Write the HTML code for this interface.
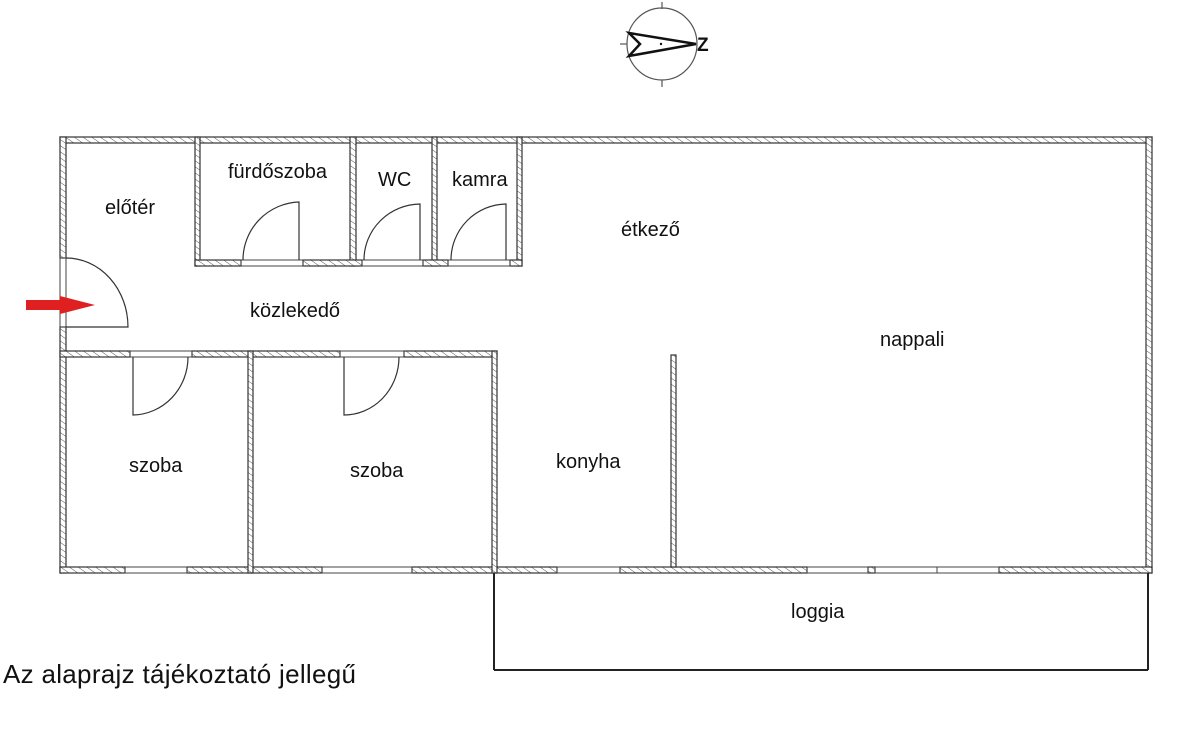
<!DOCTYPE html>
<html><head><meta charset="utf-8"><style>
html,body{margin:0;padding:0;background:#fff;}
svg{display:block;}
text{font-family:"Liberation Sans","DejaVu Sans",sans-serif;fill:#111;}
</style></head><body>
<svg width="1200" height="748" viewBox="0 0 1200 748" xmlns="http://www.w3.org/2000/svg">
<defs>
<pattern id="h" width="5" height="5" patternUnits="userSpaceOnUse" patternTransform="rotate(-55)">
<rect width="5" height="5" fill="#fff"/><line x1="0" y1="0" x2="0" y2="5" stroke="#555" stroke-width="1"/>
</pattern>
</defs>
<g stroke="#333" stroke-width="1.2" fill="url(#h)">
<rect x="60" y="137" width="1092" height="6"/>
<rect x="60" y="137" width="6" height="121"/>
<rect x="60" y="327" width="6" height="246"/>
<rect x="1146" y="137" width="6" height="436"/>
<rect x="60" y="567" width="65" height="6"/>
<rect x="187" y="567" width="135" height="6"/>
<rect x="412" y="567" width="145" height="6"/>
<rect x="620" y="567" width="187" height="6"/>
<rect x="868" y="567" width="7" height="6"/>
<rect x="999" y="567" width="153" height="6"/>
<rect x="195" y="137" width="5" height="129"/>
<rect x="350" y="137" width="6" height="129"/>
<rect x="432" y="137" width="5" height="129"/>
<rect x="517" y="137" width="5" height="129"/>
<rect x="195" y="260" width="46" height="6"/>
<rect x="303" y="260" width="59" height="6"/>
<rect x="423" y="260" width="25" height="6"/>
<rect x="510" y="260" width="12" height="6"/>
<rect x="60" y="351" width="70" height="6"/>
<rect x="192" y="351" width="148" height="6"/>
<rect x="404" y="351" width="93" height="6"/>
<rect x="248" y="351" width="5" height="222"/>
<rect x="492" y="351" width="5" height="222"/>
<rect x="671" y="355" width="5" height="212"/>
</g>
<g stroke="#444" stroke-width="1" fill="none">
<rect x="125" y="567" width="62" height="6"/>
<rect x="322" y="567" width="90" height="6"/>
<rect x="557" y="567" width="63" height="6"/>
<rect x="807" y="567" width="61" height="6"/>
<rect x="875" y="567" width="124" height="6"/>
<line x1="937" y1="567" x2="937" y2="573"/>
<rect x="241" y="260" width="62" height="6"/>
<rect x="362" y="260" width="61" height="6"/>
<rect x="448" y="260" width="62" height="6"/>
<rect x="130" y="351" width="62" height="6"/>
<rect x="340" y="351" width="64" height="6"/>
<rect x="60" y="258" width="6" height="69"/>
</g>
<g stroke="#333" stroke-width="1.2" fill="none">
<path d="M66 327 L128 327 A62 69 0 0 0 66 258"/>
<path d="M299 260 L299 202 A58 58 0 0 0 243 260"/>
<path d="M420 260 L420 204 A57 56 0 0 0 364 260"/>
<path d="M506 260 L506 204 A56 56 0 0 0 451 260"/>
<path d="M133 357 L133 415 A56 58 0 0 0 188 357"/>
<path d="M344 357 L344 415 A55 58 0 0 0 399 357"/>
</g>
<g stroke="#222" stroke-width="2" fill="none">
<line x1="494" y1="573" x2="494" y2="670"/>
<line x1="1148" y1="573" x2="1148" y2="670"/>
<line x1="494" y1="670" x2="1148" y2="670"/>
</g>
<path d="M26 300 L60 300 L60 296 L95 305 L60 314 L60 310 L26 310 Z" fill="#e02020"/>
<g stroke="#555" stroke-width="1.2" fill="none">
<ellipse cx="662" cy="44" rx="35" ry="36"/>
<line x1="662" y1="2" x2="662" y2="9"/>
<line x1="662" y1="80" x2="662" y2="87"/>
<line x1="620" y1="44" x2="627" y2="44"/>
</g>
<path d="M629 33 L696 44 L629 56 L640 44 Z" fill="none" stroke="#111" stroke-width="2.5"/>
<circle cx="661" cy="44" r="1.2" fill="#111"/>
<text x="697" y="51" font-size="19" font-weight="bold">Z</text>
<g font-size="20">
<text x="105" y="214">előtér</text>
<text x="228" y="178">fürdőszoba</text>
<text x="378" y="186">WC</text>
<text x="452" y="186">kamra</text>
<text x="621" y="236">étkező</text>
<text x="250" y="317">közlekedő</text>
<text x="880" y="346">nappali</text>
<text x="129" y="472">szoba</text>
<text x="350" y="477">szoba</text>
<text x="556" y="468">konyha</text>
<text x="791" y="618">loggia</text>
</g>
<text x="3" y="683" font-size="26" letter-spacing="0.3">Az alaprajz tájékoztató jellegű</text>
</svg>
</body></html>
